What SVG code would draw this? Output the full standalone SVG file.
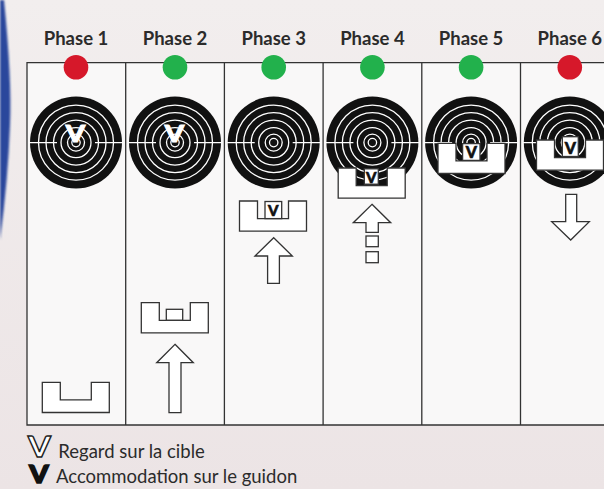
<svg xmlns="http://www.w3.org/2000/svg" width="604" height="489" viewBox="0 0 604 489">
  <style>
    .label { font-family: Lato, "Open Sans", "Liberation Sans", sans-serif; font-weight: 700; font-size: 18.5px; fill: #2b2b2b; text-anchor: middle; }
    .legend { font-family: Lato, "Open Sans", "Liberation Sans", sans-serif; font-weight: 400; font-size: 18.5px; fill: #2b2b2b; }
    .grid { fill: none; stroke: #333; stroke-width: 1.3; }
    .shape { fill: #fff; stroke: #333; stroke-width: 1.3; stroke-linejoin: miter; }
    .ring { fill: none; stroke: #fff; stroke-width: 1.3; }
    .vmark { font-family: Lato, "Liberation Sans", sans-serif; font-weight: 900; text-anchor: middle; }
    .go { fill: #22b14c; }
    .stop { fill: #d6182a; }
  </style>
  <defs>
    <linearGradient id="bg" x1="0" y1="0" x2="0" y2="1">
      <stop offset="0" stop-color="#f2eeee"/>
      <stop offset="1" stop-color="#ece4e5"/>
    </linearGradient>
    <filter id="soft" x="-50%" y="-10%" width="200%" height="120%">
      <feGaussianBlur stdDeviation="1.1"/>
    </filter>
    <!-- target face centred on the origin -->
    <g id="target">
      <circle r="46" fill="#111"/>
      <circle class="ring" r="37.5"/>
      <circle class="ring" r="30"/>
      <circle class="ring" r="22.5"/>
      <circle class="ring" r="15"/>
      <circle class="ring" r="8.5"/>
      <circle class="ring" r="4.2"/>
      <path class="ring" d="M-47,0 H-19 M19,0 H47"/>
    </g>
    <!-- rear sight: top centre at the origin -->
    <path id="sight" class="shape" d="M-33.5,0 H-15.5 V17.6 H15.5 V0 H33.5 V30.2 H-33.5 Z"/>
  </defs>

  <!-- page -->
  <rect width="604" height="489" fill="url(#bg)"/>
  <path d="M0,0 H4 Q12,80 10,125 Q8,180 0,240 Z" fill="#2a479c" filter="url(#soft)"/>

  <!-- table -->
  <g id="table">
    <rect x="27" y="62.7" width="600" height="362.3" fill="#f9f8f8"/>
    <path class="grid" d="M604,62.7 H27 V425 H604 M125.7,62.7 V425 M224.4,62.7 V425 M323.1,62.7 V425 M421.8,62.7 V425 M520.5,62.7 V425"/>
  </g>

  <!-- phase 1 -->
  <g id="phase1">
    <text class="label" x="76" y="45">Phase 1</text>
    <circle class="stop" cx="76" cy="67.3" r="12.3"/>
    <use href="#target" x="76" y="142.6"/>
    <text class="vmark" transform="translate(75.5,141.5) scale(1.2,1)" font-size="23" fill="#fff" stroke="#fff" stroke-width="1">V</text>
    <use href="#sight" x="75.8" y="382.3"/>
  </g>

  <!-- phase 2 -->
  <g id="phase2">
    <text class="label" x="175" y="45">Phase 2</text>
    <circle class="go" cx="175" cy="67.3" r="12.3"/>
    <use href="#target" x="175" y="142.6"/>
    <text class="vmark" transform="translate(174.5,141.5) scale(1.2,1)" font-size="23" fill="#fff" stroke="#fff" stroke-width="1">V</text>
    <use href="#sight" x="174.8" y="302.7"/>
    <rect class="shape" x="166.3" y="309.3" width="16.4" height="10.9"/>
    <path class="shape" d="M175,344.3 L193.3,362.7 H181 V412.7 H169 V362.7 H156.7 Z"/>
  </g>

  <!-- phase 3 -->
  <g id="phase3">
    <text class="label" x="273.7" y="45">Phase 3</text>
    <circle class="go" cx="273.7" cy="67.3" r="12.3"/>
    <use href="#target" x="273.7" y="142.6"/>
    <use href="#sight" x="273" y="201"/>
    <rect class="shape" x="265" y="201.5" width="16.7" height="17.1"/>
    <text class="vmark" x="273.3" y="216" font-size="15" fill="#111" stroke="#111" stroke-width="0.6">V</text>
    <path class="shape" d="M273.7,237.7 L292.3,256 H279.4 V283.3 H267.6 V256 H255 Z"/>
  </g>

  <!-- phase 4 -->
  <g id="phase4">
    <text class="label" x="372.4" y="45">Phase 4</text>
    <circle class="go" cx="372.4" cy="67.3" r="12.3"/>
    <use href="#target" x="372.4" y="142.6"/>
    <use href="#sight" x="371.7" y="168"/>
    <rect class="shape" x="364.3" y="168.8" width="14" height="15.4"/>
    <text class="vmark" x="371.3" y="182.5" font-size="15" fill="#111" stroke="#111" stroke-width="0.6">V</text>
    <path class="shape" d="M372,204.3 L390.7,222.7 H378.3 V232.3 H366 V222.7 H353.3 Z"/>
    <rect class="shape" x="366" y="236" width="12.3" height="10.7"/>
    <rect class="shape" x="366" y="251.7" width="12.3" height="11"/>
  </g>

  <!-- phase 5 -->
  <g id="phase5">
    <text class="label" x="471.1" y="45">Phase 5</text>
    <circle class="go" cx="471.1" cy="67.3" r="12.3"/>
    <use href="#target" x="471.1" y="142.6"/>
    <use href="#sight" x="471.5" y="143.3"/>
    <rect class="shape" x="462.6" y="143.6" width="17.4" height="16.8"/>
    <text class="vmark" x="471.3" y="158.4" font-size="16" fill="#111" stroke="#111" stroke-width="0.6">V</text>
  </g>

  <!-- phase 6 -->
  <g id="phase6">
    <text class="label" x="569.8" y="45">Phase 6</text>
    <circle class="stop" cx="569.8" cy="67.3" r="12.3"/>
    <use href="#target" x="569.8" y="142.6"/>
    <use href="#sight" x="570" y="140"/>
    <rect class="shape" x="562.3" y="136.7" width="16" height="19.8"/>
    <text class="vmark" x="570.3" y="154" font-size="16" fill="#111" stroke="#111" stroke-width="0.6">V</text>
    <path class="shape" d="M565.7,194.3 H576.7 V221.7 H589.3 L570.7,240 L551.7,221.7 H565.7 Z"/>
  </g>

  <!-- legend -->
  <g id="legend">
    <text class="vmark" transform="translate(39.5,456.5) scale(1.12,1)" font-size="29" fill="#fff" stroke="#222" stroke-width="1.3">V</text>
    <text class="legend" x="58.3" y="458.3">Regard sur la cible</text>
    <text class="vmark" transform="translate(39,483.3) scale(1.15,1)" font-size="24" fill="#111" stroke="#111" stroke-width="1.5">V</text>
    <text class="legend" x="56" y="483.3">Accommodation sur le guidon</text>
  </g>
</svg>
